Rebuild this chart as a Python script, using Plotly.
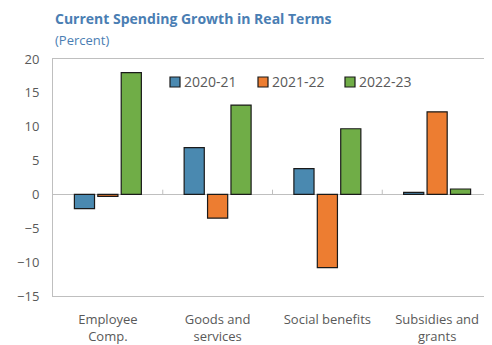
import plotly.graph_objects as go

categories = ["Employee<br>Comp.", "Goods and<br>services", "Social benefits", "Subsidies and<br>grants"]
series_names = ["2020-21", "2021-22", "2022-23"]
vals_2020 = [-2.1, 6.9, 3.8, 0.3]
vals_2021 = [-0.3, -3.5, -10.8, 12.2]
vals_2022 = [18.0, 13.2, 9.7, 0.8]
colors = ["#4A89B0", "#ED7D31", "#70AD47"]
y_ticks = [20, 15, 10, 5, 0, -5, -10, -15]

fig = go.Figure()
for name, vals, col in zip(series_names, [vals_2020, vals_2021, vals_2022], colors):
    fig.add_trace(go.Bar(
        x=categories, y=vals, name=name,
        marker=dict(color=col, line=dict(color="#1a1a1a", width=1.2)),
        showlegend=False,
    ))

# small category separator ticks at the zero line
for i in range(len(categories) - 1):
    fig.add_shape(type="line", xref="x", yref="y",
                  x0=i + 0.5, x1=i + 0.5, y0=0, y1=0.7,
                  line=dict(color="#bfbfbf", width=1))

# hand-placed legend: small outlined squares with labels next to them
plot_w, plot_h = 439, 237
legend_x = [117, 205, 292]   # px from plot left
legend_y = 0.903
sq = 10
for lx, name, col in zip(legend_x, series_names, colors):
    fig.add_shape(type="rect", xref="paper", yref="paper",
                  x0=lx / plot_w, x1=(lx + sq) / plot_w,
                  y0=legend_y - sq / 2 / plot_h, y1=legend_y + sq / 2 / plot_h,
                  fillcolor=col, line=dict(color="#1a1a1a", width=1.2))
    fig.add_annotation(text=name, xref="paper", yref="paper",
                       x=(lx + sq + 2) / plot_w, y=legend_y,
                       xanchor="left", yanchor="middle", showarrow=False,
                       font=dict(size=14, color="#595959"))

fig.add_annotation(text="<b>Current Spending Growth in Real Terms</b>",
                   xref="paper", yref="paper", x=0, y=1, yshift=41,
                   xanchor="left", yanchor="middle", showarrow=False,
                   font=dict(size=14, color="#4A7EB3", family="Open Sans"))
fig.add_annotation(text="(Percent)",
                   xref="paper", yref="paper", x=0, y=1, yshift=19,
                   xanchor="left", yanchor="middle", showarrow=False,
                   font=dict(size=13, color="#4A7EB3", family="Open Sans"))

# page body adds an 8px offset, so the figure is sized to fit the window
fig.update_layout(
    width=484, height=337,
    margin=dict(l=45, r=0, t=51, b=49),
    plot_bgcolor="white", paper_bgcolor="white",
    font=dict(family="Open Sans", size=13, color="#595959"),
    barmode="group", bargap=0.36, bargroupgap=0.14,
    showlegend=False,
)
fig.update_yaxes(range=[-15, 20], tickvals=y_ticks, showgrid=False,
                 showline=True, linecolor="#bfbfbf", linewidth=1, mirror=True,
                 zeroline=True, zerolinecolor="#bfbfbf", zerolinewidth=1,
                 ticks="", ticklabelstandoff=10, automargin=False)
fig.update_xaxes(showline=True, linecolor="#bfbfbf", linewidth=1, mirror=True,
                 showgrid=False, ticks="", ticklabelstandoff=11, automargin=False)

fig.write_html("out.html")
